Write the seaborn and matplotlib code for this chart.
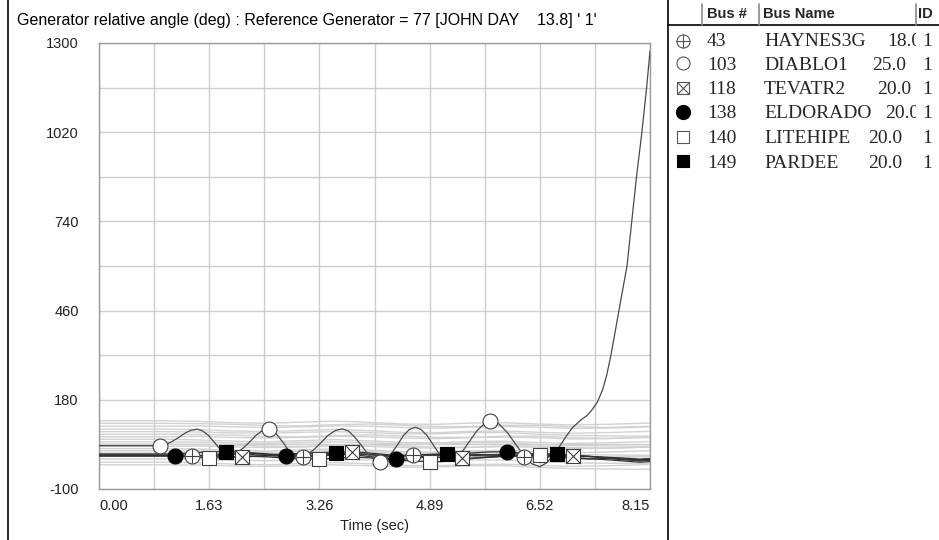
import numpy as np
import pandas as pd
import matplotlib
matplotlib.use("Agg")
import matplotlib.pyplot as plt
import seaborn as sns
from matplotlib.transforms import Bbox

# ---------------- data ----------------
title_text = "Generator relative angle (deg) : Reference Generator = 77 [JOHN DAY    13.8] ' 1'"
x_label = "Time (sec)"
x_ticks = [0.00, 1.63, 3.26, 4.89, 6.52, 8.15]
x_tick_labels = ["0.00", "1.63", "3.26", "4.89", "6.52", "8.15"]
y_ticks = [-100, 180, 460, 740, 1020, 1300]
y_tick_labels = ["-100", "180", "460", "740", "1020", "1300"]

bus_nums = ["43", "103", "118", "138", "140", "149"]
bus_names = ["HAYNES3G", "DIABLO1", "TEVATR2", "ELDORADO", "LITEHIPE", "PARDEE"]
bus_kv = ["18.0", "25.0", "20.0", "20.0", "20.0", "20.0"]
bus_ids = ["1", "1", "1", "1", "1", "1"]

# background generators (light grey), sampled every 0.5 s
t_bg = [0.0, 0.5, 1.0, 1.5, 2.0, 2.5, 3.0, 3.5, 4.0, 4.5, 5.0, 5.5, 6.0, 6.5, 7.0, 7.5, 8.0, 8.15]
bg_1 = [114, 114, 114, 112, 108, 106, 110, 113, 109, 104, 103, 107, 108, 104, 101, 103, 106, 107]
bg_2 = [106, 106, 106, 105, 103, 99, 98, 102, 104, 100, 96, 96, 100, 100, 95, 93, 96, 97]
bg_3 = [97, 97, 97, 98, 95, 93, 95, 98, 97, 93, 91, 94, 96, 94, 90, 91, 94, 95]
bg_4 = [88, 88, 88, 86, 82, 80, 84, 87, 83, 78, 77, 81, 82, 78, 75, 77, 80, 81]
bg_5 = [80, 80, 80, 79, 76, 75, 78, 80, 77, 73, 73, 77, 77, 72, 68, 67, 66, 66]
bg_6 = [72, 72, 72, 71, 69, 65, 64, 68, 70, 66, 62, 62, 66, 66, 61, 59, 62, 63]
bg_7 = [64, 64, 64, 65, 62, 60, 62, 65, 64, 60, 58, 61, 63, 61, 57, 58, 61, 62]
bg_8 = [56, 56, 56, 54, 50, 48, 52, 55, 51, 46, 45, 49, 50, 46, 43, 45, 48, 49]
bg_9 = [48, 48, 48, 47, 44, 43, 46, 48, 45, 41, 41, 45, 45, 40, 36, 35, 34, 34]
bg_10 = [41, 41, 41, 40, 38, 34, 33, 37, 39, 35, 31, 31, 35, 35, 30, 28, 31, 32]
bg_11 = [34, 34, 34, 35, 32, 30, 32, 35, 34, 30, 28, 31, 33, 31, 27, 28, 31, 32]
bg_12 = [27, 27, 27, 25, 21, 19, 23, 26, 22, 17, 16, 20, 21, 17, 14, 16, 19, 20]
bg_13 = [20, 20, 20, 19, 16, 15, 18, 20, 17, 13, 13, 17, 17, 12, 8, 7, 6, 6]
bg_14 = [13, 13, 13, 12, 10, 6, 5, 9, 11, 7, 3, 3, 7, 7, 2, 0, 3, 4]
bg_15 = [4, 4, 4, 5, 2, 0, 2, 5, 4, 0, -2, 1, 3, 1, -3, -2, 1, 2]
bg_16 = [-6, -6, -6, -7, -10, -11, -8, -6, -9, -13, -13, -9, -9, -14, -18, -19, -20, -20]
bg_17 = [-16, -16, -16, -18, -22, -24, -20, -17, -21, -26, -27, -23, -22, -26, -29, -27, -24, -23]
bg_18 = [-24, -24, -24, -25, -28, -29, -26, -24, -27, -31, -31, -27, -27, -32, -36, -37, -38, -38]

# highlighted generators, sampled every 0.25 s
t_hl = [0.00, 0.25, 0.50, 0.75, 1.00, 1.25, 1.50, 1.75, 2.00, 2.25, 2.50, 2.75, 3.00, 3.25, 3.50, 3.75,
        4.00, 4.25, 4.50, 4.75, 5.00, 5.25, 5.50, 5.75, 6.00, 6.25, 6.50, 6.75, 7.00, 7.25, 7.50, 7.75,
        8.00, 8.15]
haynes3g = [5, 5, 5, 5, 5, 5, 4, 6, 9, 8, 5, 2, 1, 3, 8, 11, 8, 3, 4, 7, 9, 8, 5, 4, 5, 2, 0, 2, 5, 3, -2, -6, -10, -8]
tevatr2 = [6, 6, 6, 6, 6, 7, 5, 3, 1, 2, 6, 10, 12, 14, 16, 17, 13, 8, 4, 2, 0, -2, -3, -1, 2, 5, 6, 6, 5, 2, -2, -5, -8, -6]
eldorado = [7, 7, 7, 7, 6, 4, 5, 9, 12, 12, 8, 4, 3, 6, 10, 8, 2, -4, -6, -2, 5, 10, 13, 16, 17, 13, 6, 0, -4, -6, -4, -8, -12, -10]
litehipe = [3, 3, 3, 3, 3, 1, -1, -2, 0, 3, 1, -3, -5, -6, -3, 0, -2, -6, -10, -13, -15, -11, -5, 0, 4, 6, 7, 5, 0, -5, -8, -12, -16, -14]
pardee = [10, 10, 10, 10, 10, 12, 15, 17, 17, 14, 10, 8, 9, 11, 13, 12, 8, 5, 6, 8, 9, 10, 9, 8, 9, 10, 11, 10, 6, 2, 0, -3, -6, -4]

# DIABLO1 (loses synchronism)
t_diablo = [0.00, 0.45, 0.90, 0.99, 1.08, 1.18, 1.27, 1.36, 1.45, 1.53, 1.62, 1.70, 1.78, 1.87, 1.95,
            2.04, 2.13, 2.23, 2.32, 2.41, 2.50, 2.58, 2.65, 2.73, 2.80, 2.88, 2.95, 3.06, 3.17, 3.28,
            3.38, 3.49, 3.60, 3.69, 3.78, 3.88, 3.97, 4.06, 4.15, 4.24, 4.33, 4.42, 4.50, 4.59, 4.68,
            4.76, 4.85, 4.93, 5.01, 5.10, 5.18, 5.28, 5.39, 5.49, 5.59, 5.70, 5.80, 5.92, 6.04, 6.16,
            6.28, 6.40, 6.52, 6.62, 6.72, 6.80, 6.90, 7.00, 7.13, 7.22, 7.28, 7.37, 7.45, 7.51, 7.57,
            7.63, 7.69, 7.75, 7.81, 7.88, 7.95, 8.03, 8.10, 8.15]
diablo1 = [36, 36, 36, 39.5, 49, 62, 75, 84.5, 88, 82.6, 68, 48, 28, 13.4, 8,
           13.4, 28, 48, 68, 82.6, 88, 82.1, 66, 44, 22, 5.9, 0, 6, 22, 44.5,
           67, 83, 89, 82.1, 63.2, 37.5, 11.8, -7.1, -14, -6.8, 13, 40, 67, 86.8, 94,
           87.2, 68.5, 43, 17.5, -1.2, -8, 0.1, 22.3, 52.5, 82.8, 104.9, 113, 103.4, 77.3, 41.5,
           5.8, -20.4, -30, -18, 5, 30, 62, 92, 117, 131, 145, 172, 212, 258, 318,
           388, 460, 530, 600, 740, 879, 1020, 1160, 1275]

# symbol positions
mk_t_haynes = [1.37, 3.02, 4.65, 6.28]
mk_v_haynes = [5, 1, 6, 2]
mk_t_diablo = [0.90, 2.52, 4.15, 5.79]
mk_v_diablo = [36, 87, -14, 113]
mk_t_tevatr = [2.11, 3.74, 5.37, 7.01]
mk_v_tevatr = [2, 17, -3, 5]
mk_t_eldorado = [1.13, 2.77, 4.40, 6.04]
mk_v_eldorado = [5, 4, -5, 17]
mk_t_litehipe = [1.62, 3.26, 4.89, 6.52]
mk_v_litehipe = [-2, -6, -14, 7]
mk_t_pardee = [1.88, 3.50, 5.14, 6.77]
mk_v_pardee = [17, 13, 10, 10]

# ---------------- figure ----------------
sns.set_style("white")
plt.rcParams["font.family"] = ["Liberation Sans", "DejaVu Sans"]

W, H = 939, 540
fig = plt.figure(figsize=(W / 100, H / 100), dpi=100)
L, R, T, B = 99, 650, 43, 489
ax = fig.add_axes([L / W, 1 - B / H, (R - L) / W, (B - T) / H])

bg_series = [bg_1, bg_2, bg_3, bg_4, bg_5, bg_6, bg_7, bg_8, bg_9, bg_10, bg_11, bg_12,
             bg_13, bg_14, bg_15, bg_16, bg_17, bg_18]
bg_df = pd.DataFrame({
    "t": np.tile(t_bg, len(bg_series)),
    "v": np.concatenate([np.asarray(s, float) for s in bg_series]),
    "gen": np.repeat(np.arange(len(bg_series)), len(t_bg)),
})
sns.lineplot(data=bg_df, x="t", y="v", units="gen", estimator=None, color="#d2d2d2",
             linewidth=1.0, ax=ax, legend=False, sort=False, zorder=2)

hl_series = [haynes3g, tevatr2, eldorado, litehipe, pardee]
hl_df = pd.DataFrame({
    "t": np.tile(t_hl, len(hl_series)),
    "v": np.concatenate([np.asarray(s, float) for s in hl_series]),
    "gen": np.repeat(np.arange(len(hl_series)), len(t_hl)),
})
sns.lineplot(data=hl_df, x="t", y="v", units="gen", estimator=None, color="#333333",
             linewidth=0.9, ax=ax, legend=False, sort=False, zorder=3)
sns.lineplot(x=t_diablo, y=diablo1, color="#4a4a4a", linewidth=0.9, ax=ax,
             legend=False, sort=False, estimator=None, zorder=3)

S = 115
edge = "#404040"
# crossed circle
sns.scatterplot(x=mk_t_haynes, y=mk_v_haynes, marker="o", s=S, color="white",
                edgecolor=edge, linewidth=0.8, ax=ax, zorder=5)
ax.scatter(mk_t_haynes, mk_v_haynes, marker="+", s=S, color=edge, linewidths=0.8, zorder=6)
# open circle
sns.scatterplot(x=mk_t_diablo, y=mk_v_diablo, marker="o", s=S, color="white",
                edgecolor=edge, linewidth=0.8, ax=ax, zorder=5)
# x square
sns.scatterplot(x=mk_t_tevatr, y=mk_v_tevatr, marker="s", s=S, color="white",
                edgecolor=edge, linewidth=0.8, ax=ax, zorder=5)
ax.scatter(mk_t_tevatr, mk_v_tevatr, marker="x", s=S, color=edge, linewidths=0.8, zorder=6)
# filled circle
sns.scatterplot(x=mk_t_eldorado, y=mk_v_eldorado, marker="o", s=S, color="black",
                edgecolor="black", linewidth=0.8, ax=ax, zorder=5)
# open square
sns.scatterplot(x=mk_t_litehipe, y=mk_v_litehipe, marker="s", s=S, color="white",
                edgecolor=edge, linewidth=0.8, ax=ax, zorder=5)
# filled square
sns.scatterplot(x=mk_t_pardee, y=mk_v_pardee, marker="s", s=S, color="black",
                edgecolor="black", linewidth=0.8, ax=ax, zorder=5)

ax.set_xlim(0, 8.15)
ax.set_ylim(-100, 1300)
ax.set_xticks(x_ticks)
ax.set_xticklabels(x_tick_labels)
ax.set_yticks(y_ticks)
ax.set_yticklabels(y_tick_labels)
ax.set_xticks([0.815, 2.445, 4.075, 5.705, 7.335], minor=True)
ax.set_yticks([40, 320, 600, 880, 1160], minor=True)
ax.grid(which="both", color="#cdcdcd", linewidth=1.0, zorder=0)
ax.set_axisbelow(True)
ax.tick_params(axis="both", which="major", direction="out", length=5.5, width=1,
               color="#8a8a8a", labelsize=10.5, labelcolor="#222222")
ax.tick_params(axis="y", which="major", pad=9)
ax.tick_params(axis="x", which="major", pad=2)
ax.tick_params(which="minor", length=0)
for sp in ax.spines.values():
    sp.set_color("#9a9a9a")
    sp.set_linewidth(1.0)
xl = ax.get_xticklabels()
xl[0].set_ha("left")
xl[-1].set_ha("right")
ax.set_xlabel(x_label, fontsize=10.5, color="#222222", labelpad=4)
ax.set_ylabel("")

# ---------------- overlay (title, frame, legend table) ----------------
ov = fig.add_axes([0, 0, 1, 1], zorder=10)
ov.patch.set_alpha(0)

ov.text(17, 20.5, title_text, ha="left", va="center", fontsize=11.5, color="black")
ov.plot([8, 8], [0, H], color="black", lw=1.2)
ov.plot([668, 668], [0, H], color="black", lw=1.2)
ov.plot([668, W], [25, 25], color="black", lw=1.2)
for xs in (702, 759, 916):
    ov.plot([xs, xs], [4, 25], color="#8a8a8a", lw=1.2)
ov.text(707, 14, "Bus #", ha="left", va="center", fontsize=10.5, fontweight="bold")
ov.text(763, 14, "Bus Name", ha="left", va="center", fontsize=10.5, fontweight="bold")
ov.text(918, 14, "ID", ha="left", va="center", fontsize=10.5, fontweight="bold")

row_y = [42, 65, 89.5, 113.5, 138.5, 163]
kv_x = [887, 872, 877, 885, 868, 868]
serif = ["Liberation Serif", "DejaVu Serif"]
clip = Bbox([[0, 0], [916, H]])
for i in range(len(bus_nums)):
    y = row_y[i]
    ov.text(707, y, bus_nums[i], ha="left", va="center", fontsize=14, family=serif)
    ov.text(764, y, bus_names[i], ha="left", va="center", fontsize=14, family=serif)
    tk = ov.text(kv_x[i], y, bus_kv[i], ha="left", va="center", fontsize=14, family=serif)
    tk.set_clip_box(clip)
    tk.set_clip_on(True)
    ov.text(922, y, bus_ids[i], ha="left", va="center", fontsize=14, family=serif)

LS = 88
lx = 683
my = [40.5, 63, 88, 112, 136.5, 161]
g = "#555555"
sns.scatterplot(x=[lx], y=[my[0]], marker="o", s=LS, color="white", edgecolor=g, linewidth=0.8, ax=ov)
ov.scatter([lx], [my[0]], marker="+", s=LS, color=g, linewidths=0.8)
sns.scatterplot(x=[lx], y=[my[1]], marker="o", s=LS, color="white", edgecolor=g, linewidth=0.8, ax=ov)
sns.scatterplot(x=[lx], y=[my[2]], marker="s", s=LS - 10, color="white", edgecolor=g, linewidth=0.8, ax=ov)
ov.scatter([lx], [my[2]], marker="x", s=LS - 10, color=g, linewidths=0.8)
sns.scatterplot(x=[lx], y=[my[3]], marker="o", s=LS + 15, color="black", edgecolor="black", linewidth=0.8, ax=ov)
sns.scatterplot(x=[lx], y=[my[4]], marker="s", s=LS - 10, color="white", edgecolor=g, linewidth=0.8, ax=ov)
sns.scatterplot(x=[lx], y=[my[5]], marker="s", s=LS - 10, color="black", edgecolor="black", linewidth=0.8, ax=ov)
ov.set_xlim(0, W)
ov.set_ylim(H, 0)
ov.axis("off")

fig.savefig("out.png", dpi=100)
